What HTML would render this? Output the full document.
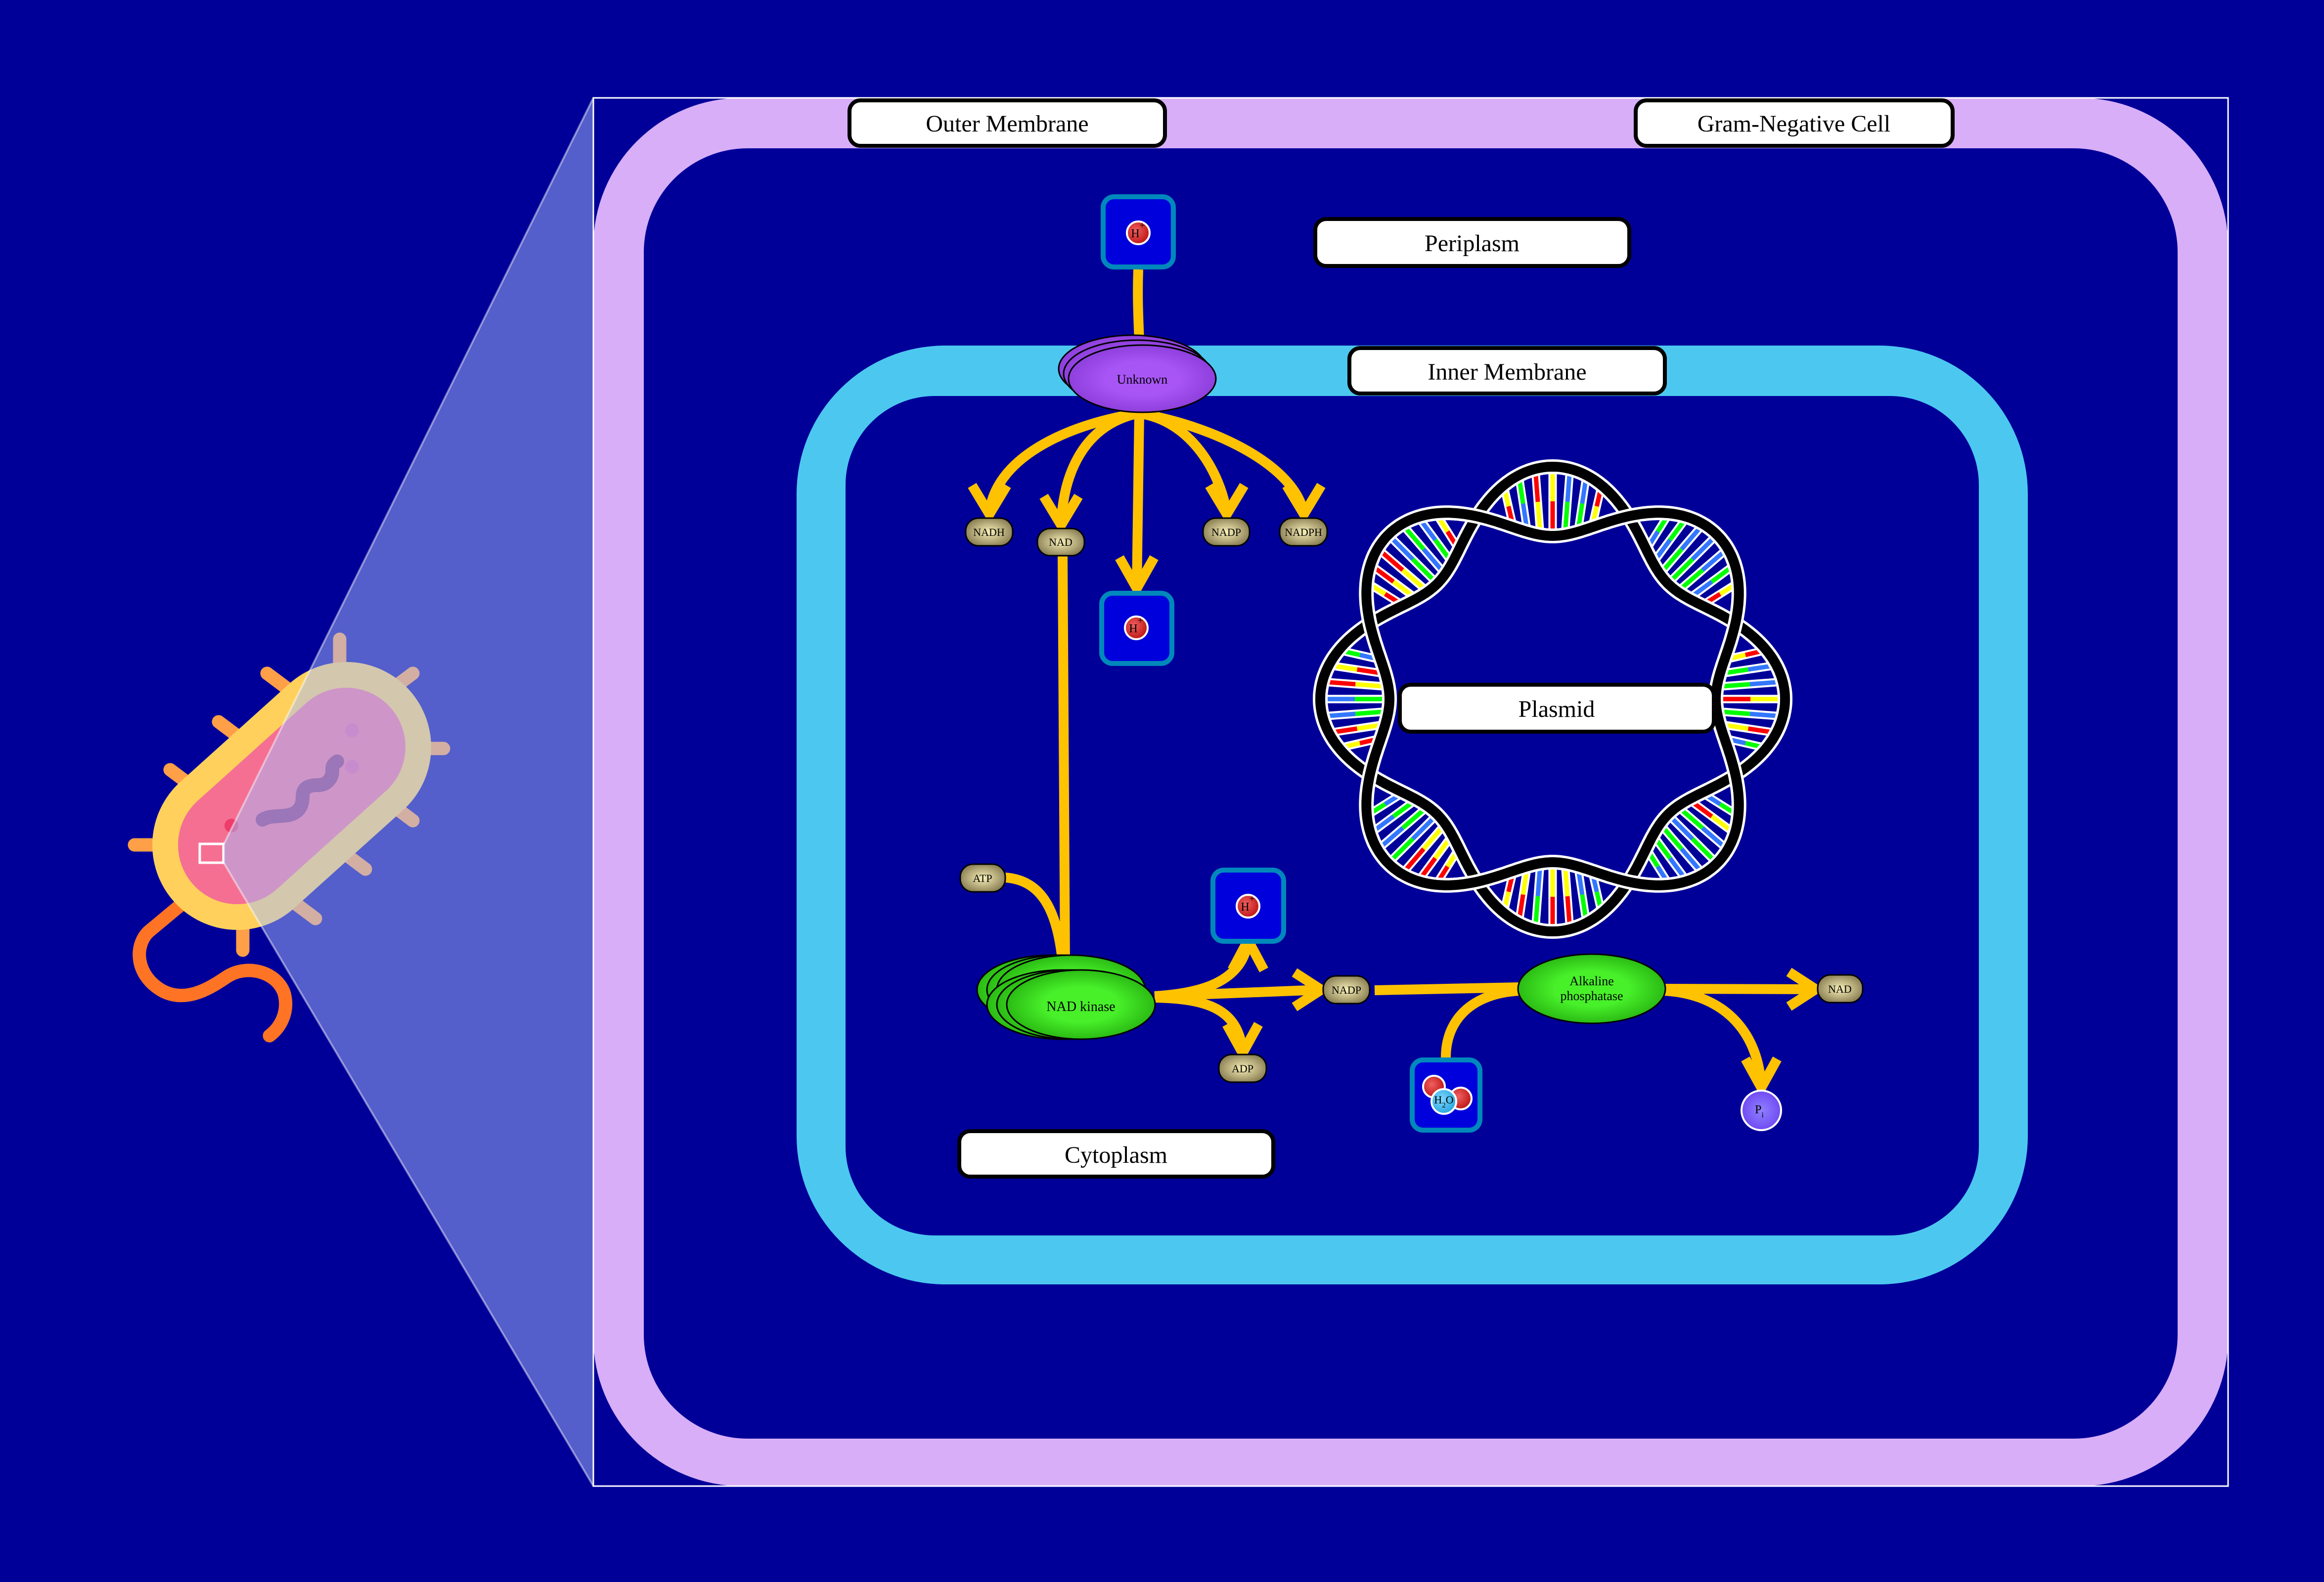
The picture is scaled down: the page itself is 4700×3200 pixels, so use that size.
<!DOCTYPE html>
<html><head><meta charset="utf-8">
<style>
html,body{margin:0;padding:0;background:#000099;}
svg{display:block;}
text{font-family:"Liberation Serif",serif;}
</style></head>
<body>
<svg id="s" width="4700" height="3200" viewBox="0 0 4700 3200" xmlns="http://www.w3.org/2000/svg" font-family="Liberation Serif, serif">
<defs>
<radialGradient id="gGreen" cx="50%" cy="50%" r="50%"><stop offset="0.5" stop-color="#48F02A"/><stop offset="1" stop-color="#2BBB14"/></radialGradient>
<radialGradient id="gPurple" cx="50%" cy="50%" r="50%"><stop offset="0.5" stop-color="#A855F5"/><stop offset="1" stop-color="#8E3FDC"/></radialGradient>
<radialGradient id="gPill" cx="50%" cy="50%" r="60%"><stop offset="0" stop-color="#F8F0B8"/><stop offset="1" stop-color="#7E7248"/></radialGradient>
<radialGradient id="gRed" cx="40%" cy="40%" r="60%"><stop offset="0" stop-color="#F06060"/><stop offset="1" stop-color="#C01818"/></radialGradient>
<radialGradient id="gCyan" cx="40%" cy="40%" r="60%"><stop offset="0" stop-color="#7FD8FF"/><stop offset="1" stop-color="#2AA8E0"/></radialGradient>
<radialGradient id="gPi" cx="50%" cy="50%" r="60%"><stop offset="0" stop-color="#8F80FF"/><stop offset="1" stop-color="#6A40F0"/></radialGradient>
</defs>
<rect width="4700" height="3200" fill="#000099"/>

<!-- bacterium -->
<g stroke-linecap="round" fill="none">
 <path d="M366,1830 L300,1885 C270,1915 275,1975 330,2005 C380,2030 430,1995 460,1975 C500,1950 560,1965 575,2010 C585,2050 565,2080 545,2095" stroke="#FF7424" stroke-width="27"/>
 <g stroke="#FF9F47" stroke-width="27">
  <line x1="687" y1="1293" x2="687" y2="1370"/>
  <line x1="540" y1="1362" x2="600" y2="1407"/>
  <line x1="442" y1="1460" x2="502" y2="1505"/>
  <line x1="344" y1="1557" x2="404" y2="1602"/>
  <line x1="272" y1="1709" x2="345" y2="1709"/>
  <line x1="491" y1="1922" x2="491" y2="1845"/>
  <line x1="638" y1="1858" x2="578" y2="1813"/>
  <line x1="739" y1="1758" x2="679" y2="1713"/>
  <line x1="835" y1="1660" x2="775" y2="1615"/>
  <line x1="897" y1="1514" x2="820" y2="1514"/>
  <line x1="835" y1="1362" x2="775" y2="1407"/>
 </g>
</g>
<g transform="translate(590,1610) rotate(-42)">
 <rect x="-320" y="-172" width="640" height="344" rx="172" fill="#FFD15C"/>
 <rect x="-268" y="-120" width="536" height="240" rx="120" fill="#F56F93"/>
</g>
<circle cx="712" cy="1477" r="14" fill="#E65A9E"/>
<circle cx="712" cy="1551" r="14" fill="#E65A9E"/>
<circle cx="468" cy="1670" r="14" fill="#EE3D6A"/>
<path d="M531,1658 C545,1650 555,1652 575,1650 C600,1648 612,1635 612,1612 C612,1592 625,1588 645,1588 C660,1588 672,1575 672,1560 C672,1550 672,1547 682,1540" stroke="#8E2F72" stroke-width="28" fill="none" stroke-linecap="round"/>
<rect x="404" y="1707" width="48" height="38" fill="none" stroke="#fff" stroke-width="5"/>
<!-- zoom overlay -->
<polygon points="453,1707 1200,198 1200,3006 453,1746" fill="rgba(168,190,254,0.5)"/>
<line x1="453" y1="1707" x2="1200" y2="198" stroke="rgba(255,255,255,0.45)" stroke-width="4"/>
<line x1="453" y1="1746" x2="1200" y2="3006" stroke="rgba(255,255,255,0.45)" stroke-width="4"/>

<!-- membranes -->
<rect x="1200" y="198" width="3306" height="2808" rx="300" fill="#D8AEF8"/>
<rect x="1302" y="300" width="3102" height="2610" rx="210" fill="#000099"/>
<rect x="1200" y="198" width="3306" height="2808" fill="none" stroke="#fff" stroke-width="3"/>
<rect x="1611" y="699" width="2490" height="1899" rx="300" fill="#4CC8F0"/>
<rect x="1710" y="801" width="2292" height="1698" rx="180" fill="#000099"/>

<!-- plasmid -->
<g id="plasmid"></g>

<!-- connectors -->
<g stroke="#FFC200" stroke-width="20" fill="none" stroke-linejoin="miter" stroke-linecap="butt">
 <path d="M2302,545 C2300,600 2302,640 2304,690"/>
 <path d="M2302,836 C2150,860 2010,930 2001,1040"/>
 <polyline points="1966,982 2001,1040 2036,982"/>
 <path d="M2302,836 C2190,860 2150,960 2146,1062"/>
 <polyline points="2111,1004 2146,1062 2181,1004"/>
 <path d="M2304,836 L2299,1190"/>
 <polyline points="2264,1128 2299,1190 2334,1128"/>
 <path d="M2302,836 C2410,850 2470,960 2481,1040"/>
 <polyline points="2446,982 2481,1040 2516,982"/>
 <path d="M2302,836 C2450,860 2620,940 2637,1040"/>
 <polyline points="2602,982 2637,1040 2672,982"/>
 <path d="M2149,1124 L2154,1960"/>
 <path d="M2033,1775 C2100,1780 2140,1830 2150,1960"/>
 <path d="M2335,2015 C2420,2010 2515,1990 2524,1900"/>
 <polyline points="2492,1962 2524,1902 2556,1962"/>
 <path d="M2335,2015 L2672,2002"/>
 <polyline points="2618,1967 2672,2002 2618,2037"/>
 <path d="M2335,2018 C2440,2020 2505,2040 2513,2128"/>
 <polyline points="2481,2072 2513,2130 2545,2072"/>
 <path d="M2780,2003 L3075,1997"/>
 <path d="M2924,2139 C2924,2060 2980,2008 3075,2004"/>
 <path d="M3365,2000 L3672,2001"/>
 <polyline points="3618,1966 3672,2001 3618,2036"/>
 <path d="M3365,2004 C3480,2010 3555,2080 3562,2198"/>
 <polyline points="3530,2142 3562,2200 3594,2142"/>
</g>

<!-- H+ boxes -->
<g fill="#0000DD" stroke="#0088BB" stroke-width="10">
 <rect x="2231" y="398" width="142" height="142" rx="22"/>
 <rect x="2228" y="1200" width="142" height="142" rx="22"/>
 <rect x="2453" y="1760" width="143" height="144" rx="22"/>
 <rect x="2856" y="2144" width="137" height="142" rx="22"/>
</g>
<g font-size="24" text-anchor="middle">
 <ellipse cx="2302" cy="471" rx="23" ry="23" fill="url(#gRed)" stroke="#fff" stroke-width="4"/>
 <text x="2296" y="480">H</text><text x="2310" y="462" font-size="20">+</text>
 <ellipse cx="2298" cy="1270" rx="23" ry="23" fill="url(#gRed)" stroke="#fff" stroke-width="4"/>
 <text x="2292" y="1279">H</text><text x="2306" y="1261" font-size="20">+</text>
 <ellipse cx="2524" cy="1833" rx="23" ry="23" fill="url(#gRed)" stroke="#fff" stroke-width="4"/>
 <text x="2518" y="1842">H</text><text x="2532" y="1824" font-size="20">+</text>
 <circle cx="2900" cy="2198" r="22" fill="url(#gRed)" stroke="#fff" stroke-width="4"/>
 <circle cx="2954" cy="2222" r="22" fill="url(#gRed)" stroke="#fff" stroke-width="4"/>
 <circle cx="2920" cy="2228" r="25" fill="url(#gCyan)" stroke="#fff" stroke-width="4"/>
 <text x="2920" y="2232" font-size="22">H<tspan font-size="15" dy="8">2</tspan><tspan dy="-8">O</tspan></text>
 <circle cx="3562" cy="2246" r="40" fill="url(#gPi)" stroke="#fff" stroke-width="4"/>
 <text x="3558" y="2252" font-size="24">P<tspan font-size="16" dy="8">i</tspan></text>
</g>

<!-- Unknown -->
<ellipse cx="2290" cy="746" rx="149" ry="68" fill="url(#gPurple)" stroke="#000" stroke-width="3"/>
<ellipse cx="2300" cy="756" rx="149" ry="68" fill="url(#gPurple)" stroke="#000" stroke-width="3"/>
<ellipse cx="2310" cy="766" rx="149" ry="68" fill="url(#gPurple)" stroke="#000" stroke-width="3"/>
<text x="2310" y="776" font-size="26" text-anchor="middle">Unknown</text>

<!-- NAD kinase -->
<g fill="url(#gGreen)" stroke="#000" stroke-width="3">
 <ellipse cx="2126" cy="2002" rx="150" ry="70"/>
 <ellipse cx="2146" cy="2002" rx="150" ry="70"/>
 <ellipse cx="2166" cy="2002" rx="150" ry="70"/>
 <ellipse cx="2146" cy="2032" rx="150" ry="70"/>
 <ellipse cx="2166" cy="2032" rx="150" ry="70"/>
 <ellipse cx="2186" cy="2032" rx="150" ry="70"/>
 <ellipse cx="3219" cy="2000" rx="149" ry="70"/>
</g>
<text x="2186" y="2045" font-size="28" text-anchor="middle">NAD kinase</text>
<text x="3219" y="1993" font-size="26" text-anchor="middle">Alkaline</text>
<text x="3219" y="2023" font-size="26" text-anchor="middle">phosphatase</text>

<!-- pills -->
<g fill="url(#gPill)" stroke="#000" stroke-width="3">
 <rect x="1953" y="1048" width="95" height="56" rx="26"/>
 <rect x="2098" y="1069" width="95" height="55" rx="26"/>
 <rect x="2433" y="1048" width="94" height="56" rx="26"/>
 <rect x="2588" y="1048" width="96" height="56" rx="26"/>
 <rect x="1942" y="1748" width="91" height="56" rx="26"/>
 <rect x="2676" y="1974" width="94" height="56" rx="26"/>
 <rect x="2465" y="2133" width="96" height="56" rx="26"/>
 <rect x="3676" y="1972" width="91" height="56" rx="26"/>
</g>
<g font-size="22" text-anchor="middle">
 <text x="2000" y="1084">NADH</text>
 <text x="2145" y="1104">NAD</text>
 <text x="2480" y="1084">NADP</text>
 <text x="2636" y="1084">NADPH</text>
 <text x="1987" y="1784">ATP</text>
 <text x="2723" y="2010">NADP</text>
 <text x="2513" y="2169">ADP</text>
 <text x="3721" y="2008">NAD</text>
</g>

<!-- labels -->
<g fill="#fff" stroke="#000" stroke-width="8">
 <rect x="1718" y="203" width="638" height="92" rx="22"/>
 <rect x="3308" y="203" width="641" height="92" rx="22"/>
 <rect x="2660" y="443" width="635" height="95" rx="22"/>
 <rect x="2729" y="704" width="638" height="92" rx="22"/>
 <rect x="2831" y="1385" width="635" height="95" rx="22"/>
 <rect x="1940" y="2288" width="635" height="92" rx="22"/>
</g>
<g font-size="48" text-anchor="middle">
 <text x="2037" y="266">Outer Membrane</text>
 <text x="3628" y="266">Gram-Negative Cell</text>
 <text x="2977" y="508">Periplasm</text>
 <text x="3048" y="768">Inner Membrane</text>
 <text x="3148" y="1450">Plasmid</text>
 <text x="2257" y="2352">Cytoplasm</text>
</g>
</svg>
<script>
(function(){
var NS="http://www.w3.org/2000/svg",g=document.getElementById("plasmid");
var cx=3140,cy=1414,Rm=400,a=70,P=Math.PI;
function pt(r,p){return [cx+r*Math.sin(p),cy-r*Math.cos(p)];}
function el(n,at){var e=document.createElementNS(NS,n);for(var k in at)e.setAttribute(k,at[k]);g.appendChild(e);return e;}
var seed=7;function rnd(){seed=(seed*16807)%2147483647;return seed/2147483647;}
var pairs=[["#FF0000","#FFFF00"],["#FFFF00","#FF0000"],["#00FF00","#3377FF"],["#3377FF","#00FF00"]];
for(var k=0;k<8;k++){
 for(var j=-3;j<=3;j++){
  var p=k*P/4+j*0.075;
  var rA=Rm+a*Math.cos(4*p),rB=Rm-a*Math.cos(4*p);
  var ro=Math.max(rA,rB)-12,ri=Math.min(rA,rB)+12;
  if(ro-ri<25)continue;
  var p1=pt(ri,p),p2=pt(ro,p),pm=pt((ri+ro)/2,p);
  el("line",{x1:p1[0],y1:p1[1],x2:p2[0],y2:p2[1],stroke:"#fff","stroke-width":17});
  var c=pairs[Math.floor(rnd()*4)];
  el("line",{x1:p1[0],y1:p1[1],x2:pm[0],y2:pm[1],stroke:c[0],"stroke-width":9});
  el("line",{x1:pm[0],y1:pm[1],x2:p2[0],y2:p2[1],stroke:c[1],"stroke-width":9});
 }
}
function strand(s){var d="";for(var i=0;i<=720;i++){var p=i/720*2*P;var r=Rm+s*a*Math.cos(4*p);var q=pt(r,p);d+=(i?"L":"M")+q[0].toFixed(1)+","+q[1].toFixed(1);}return d+"Z";}
[1,-1].forEach(function(s){
 var d=strand(s);
 el("path",{d:d,fill:"none",stroke:"#fff","stroke-width":30});
 el("path",{d:d,fill:"none",stroke:"#000","stroke-width":20});
});
})();
</script>
</body></html>
